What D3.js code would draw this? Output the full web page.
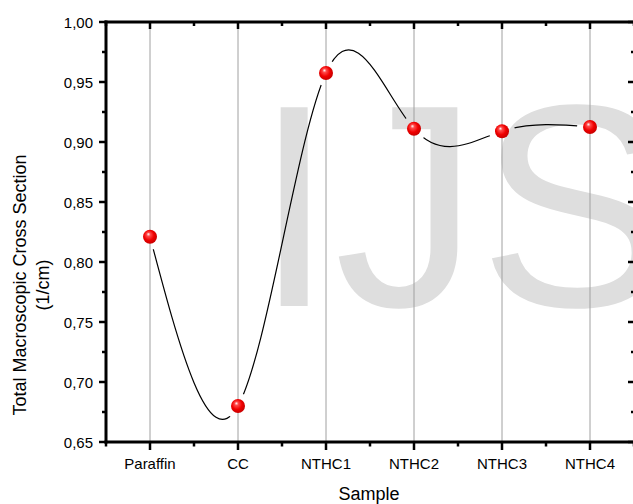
<!DOCTYPE html>
<html>
<head>
<meta charset="utf-8">
<script src="https://cdn.jsdelivr.net/npm/d3@7"></script>
<style>
    body { margin: 0; background: #fff; }
    svg { display: block; font-family: "Liberation Sans", Arial, sans-serif; }
    .tick-label { font-size: 15px; fill: #000; }
    .axis-title { font-size: 18px; fill: #000; }
</style>
</head>
<body>
<script>
const samples = ['Paraffin', 'CC', 'NTHC1', 'NTHC2', 'NTHC3', 'NTHC4'];
const crossSection = [0.821, 0.680, 0.9575, 0.911, 0.909, 0.9125];
const yTicks = [0.65, 0.70, 0.75, 0.80, 0.85, 0.90, 0.95, 1.00];

const outerW = 633,
    outerH = 504;

const margin = { left: 106, right: -1, top: 22, bottom: 62 };
const w = outerW - margin.left - margin.right,
    h = outerH - margin.top - margin.bottom;

const commaFmt = d3.formatLocale({ decimal: ',', thousands: '.', grouping: [3], currency: ['', ''] }).format('.2f');

const x = d3.scalePoint().domain(samples).range([0, w]).padding(0.5);
const y = d3.scaleLinear().domain([0.65, 1.0]).range([h, 0]);

const data = samples.map((s, i) => ({ name: s, val: crossSection[i] }));

const svg = d3.select('body').append('svg')
    .attr('width', outerW)
    .attr('height', outerH);

const defs = svg.append('defs');

// shiny red ball
const grad = defs.append('radialGradient')
    .attr('id', 'ball')
    .attr('cx', '0.45').attr('cy', '0.45').attr('r', '0.6')
    .attr('fx', '0.38').attr('fy', '0.3');
grad.append('stop').attr('offset', '0').attr('stop-color', '#ffffff');
grad.append('stop').attr('offset', '0.22').attr('stop-color', '#ff4a4a');
grad.append('stop').attr('offset', '0.6').attr('stop-color', '#f00000');
grad.append('stop').attr('offset', '1').attr('stop-color', '#c00000');

// gap round each symbol
const mask = defs.append('mask').attr('id', 'gap');
mask.append('rect')
    .attr('x', -margin.left).attr('y', -margin.top)
    .attr('width', outerW).attr('height', outerH)
    .attr('fill', '#fff');
mask.selectAll('circle')
    .data(data)
    .enter()
    .append('circle')
    .attr('cx', d => x(d.name))
    .attr('cy', d => y(d.val))
    .attr('r', 13)
    .attr('fill', '#000');

const g = svg.append('g')
    .attr('transform', `translate(${margin.left}, ${margin.top})`);

// watermark
g.append('text')
    .attr('x', 254 - margin.left)
    .attr('y', 306 - margin.top)
    .attr('fill', '#dedede')
    .style('font-size', '289px')
    .style('font-family', '"Liberation Sans", Arial, sans-serif')
    .text('IJS');

// vertical grid lines
g.append('g')
    .selectAll('line')
    .data(samples)
    .enter()
    .append('line')
    .attr('x1', d => x(d)).attr('x2', d => x(d))
    .attr('y1', 0).attr('y2', h)
    .attr('stroke', '#a0a0a0')
    .attr('stroke-width', 1);

// spline
const line = d3.line()
    .x(d => x(d.name))
    .y(d => y(d.val))
    .curve(d3.curveNatural);

g.append('path')
    .datum(data)
    .attr('d', line)
    .attr('fill', 'none')
    .attr('stroke', '#000')
    .attr('stroke-width', 1.2)
    .attr('mask', 'url(#gap)');

g.selectAll('.pt')
    .data(data)
    .enter()
    .append('circle')
    .attr('class', 'pt')
    .attr('cx', d => x(d.name))
    .attr('cy', d => y(d.val))
    .attr('r', 7)
    .attr('fill', 'url(#ball)');

// minor positions
const half = x.step() / 2;
const xMinor = [0].concat(samples.map(s => x(s) + half));
const yMinor = yTicks.slice(0, -1).map(v => y(v + 0.025));

const axes = g.append('g').attr('class', 'axes');

// bottom axis, ticks out
axes.selectAll('.xb')
    .data(samples)
    .enter()
    .append('line')
    .attr('x1', d => x(d)).attr('x2', d => x(d))
    .attr('y1', h).attr('y2', h + 8)
    .attr('stroke', '#000').attr('stroke-width', 2.5);
axes.selectAll('.xbm')
    .data(xMinor)
    .enter()
    .append('line')
    .attr('x1', d => d).attr('x2', d => d)
    .attr('y1', h).attr('y2', h + 4.5)
    .attr('stroke', '#000').attr('stroke-width', 2.5);

// top axis, ticks in
axes.selectAll('.xt')
    .data(samples)
    .enter()
    .append('line')
    .attr('x1', d => x(d)).attr('x2', d => x(d))
    .attr('y1', 0).attr('y2', 7)
    .attr('stroke', '#000').attr('stroke-width', 2.5);
axes.selectAll('.xtm')
    .data(xMinor)
    .enter()
    .append('line')
    .attr('x1', d => d).attr('x2', d => d)
    .attr('y1', 0).attr('y2', 4)
    .attr('stroke', '#000').attr('stroke-width', 2.5);

// left axis, ticks out
axes.selectAll('.yl')
    .data(yTicks)
    .enter()
    .append('line')
    .attr('x1', -7).attr('x2', 0)
    .attr('y1', d => y(d)).attr('y2', d => y(d))
    .attr('stroke', '#000').attr('stroke-width', 2.5);
axes.selectAll('.ylm')
    .data(yMinor)
    .enter()
    .append('line')
    .attr('x1', -4).attr('x2', 0)
    .attr('y1', d => d).attr('y2', d => d)
    .attr('stroke', '#000').attr('stroke-width', 2.5);

// right axis (just off the edge), ticks in
axes.selectAll('.yr')
    .data(yTicks)
    .enter()
    .append('line')
    .attr('x1', w - 6).attr('x2', w)
    .attr('y1', d => y(d)).attr('y2', d => y(d))
    .attr('stroke', '#000').attr('stroke-width', 2.5);
axes.selectAll('.yrm')
    .data(yMinor)
    .enter()
    .append('line')
    .attr('x1', w - 3).attr('x2', w)
    .attr('y1', d => d).attr('y2', d => d)
    .attr('stroke', '#000').attr('stroke-width', 2.5);

// frame
axes.append('line').attr('x1', -1.5).attr('x2', w).attr('y1', h).attr('y2', h)
    .attr('stroke', '#000').attr('stroke-width', 3);
axes.append('line').attr('x1', -1.5).attr('x2', w).attr('y1', 0).attr('y2', 0)
    .attr('stroke', '#000').attr('stroke-width', 3);
axes.append('line').attr('x1', 0).attr('x2', 0).attr('y1', -1.5).attr('y2', h + 1.5)
    .attr('stroke', '#000').attr('stroke-width', 3);

// tick labels
g.selectAll('.xlab')
    .data(samples)
    .enter()
    .append('text')
    .attr('class', 'tick-label')
    .attr('text-anchor', 'middle')
    .attr('x', d => x(d))
    .attr('y', h + 27)
    .text(d => d);

g.selectAll('.ylab')
    .data(yTicks)
    .enter()
    .append('text')
    .attr('class', 'tick-label')
    .attr('text-anchor', 'end')
    .attr('x', -13)
    .attr('y', d => y(d) + 5.5)
    .text(d => commaFmt(d));

// titles
svg.append('text')
    .attr('class', 'axis-title')
    .attr('text-anchor', 'middle')
    .attr('x', 369)
    .attr('y', 500)
    .text('Sample');

const yt = svg.append('text')
    .attr('class', 'axis-title')
    .attr('text-anchor', 'middle')
    .attr('transform', 'translate(26, 285) rotate(-90)');
yt.append('tspan').attr('x', 0).attr('y', 0).text('Total Macroscopic Cross Section');
yt.append('tspan').attr('x', 0).attr('y', 23).text('(1/cm)');
</script>
</body>
</html>
